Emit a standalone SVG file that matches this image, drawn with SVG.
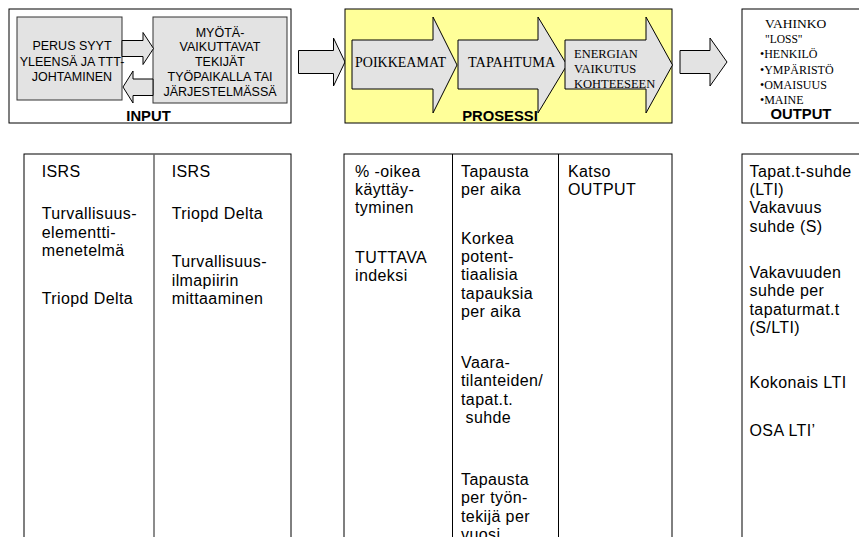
<svg xmlns="http://www.w3.org/2000/svg" width="859" height="537" viewBox="0 0 859 537">
<style>
.frame{fill:#fff;stroke:#000;stroke-width:1}
.yel{fill:#ffff99;stroke:#000;stroke-width:1}
.gbox{fill:#e3e3e3;stroke:#333;stroke-width:1}
.arr{fill:#e3e3e3;stroke:#000;stroke-width:1;stroke-linejoin:miter}
.tbl{fill:none;stroke:#000;stroke-width:1}
.div{stroke:#000;stroke-width:1}
.div2{stroke:#666;stroke-width:1.5}
.sm{font-family:"Liberation Sans",Arial,sans-serif;font-size:12.5px;fill:#000;text-anchor:middle}
.lbl{font-family:"Liberation Sans",Arial,sans-serif;font-size:14.8px;font-weight:bold;fill:#000;text-anchor:middle}
.ser{font-family:"Liberation Serif","Times New Roman",serif;fill:#000}
.t{font-family:"Liberation Sans",Arial,sans-serif;font-size:16px;letter-spacing:0.4px;fill:#000}
</style>

<g id="input">
  <rect class="frame" x="9" y="9" width="282" height="114"/>
  <g id="perus-syyt">
    <rect class="gbox" x="17" y="17" width="105" height="83"/>
    <text class="sm"><tspan x="72" y="50">PERUS SYYT</tspan><tspan x="72" y="65.5">YLEENSÄ JA TTT-</tspan><tspan x="72" y="81">JOHTAMINEN</tspan></text>
  </g>
  <g id="myotavaikuttavat">
    <rect class="gbox" x="153" y="17" width="134" height="86"/>
    <text class="sm"><tspan x="220" y="36.5">MYÖTÄ-</tspan><tspan x="220" y="51.3">VAIKUTTAVAT</tspan><tspan x="220" y="66.1">TEKIJÄT</tspan><tspan x="220" y="80.9">TYÖPAIKALLA TAI</tspan><tspan x="220" y="95.7">JÄRJESTELMÄSSÄ</tspan></text>
  </g>
  <text class="lbl" x="148.5" y="120.5">INPUT</text>
</g>

<g id="connectors">
  <path class="arr" d="M122,40.5 H143 V32.5 L153.5,48.5 L143,64.5 V56.5 H122 Z"/>
  <path class="arr" d="M153,79 H133 V71 L123,87 L133,103 V95.5 H153 Z"/>
  <path class="arr" d="M298.5,50.5 H333.5 V38 L345,62 L333.5,86 V73.5 H298.5 Z"/>
  <path class="arr" d="M680,50.5 H710 V38 L727,62 L710,86 V73.5 H680 Z"/>
</g>

<g id="prosessi">
  <rect class="yel" x="345" y="9" width="327" height="114"/>
  <g id="poikkeamat">
    <path class="arr" d="M352,40 H433 V17 L457,65 L433,113 V89 H352 Z"/>
    <text class="ser" x="355" y="67" font-size="14">POIKKEAMAT</text>
  </g>
  <g id="tapahtuma">
    <path class="arr" d="M458,40 H538 V17 L567,65 L538,113 V89 H458 Z"/>
    <text class="ser" x="468" y="67" font-size="14.3">TAPAHTUMA</text>
  </g>
  <g id="energian">
    <path class="arr" d="M565,40 H646 V17 L672.5,65 L646,113 V89 H565 Z"/>
    <text class="ser" font-size="12.5"><tspan x="574" y="58">ENERGIAN</tspan><tspan x="574" y="73">VAIKUTUS</tspan><tspan x="574" y="87.5">KOHTEESEEN</tspan></text>
  </g>
  <text class="lbl" x="500" y="120.5">PROSESSI</text>
</g>

<g id="output">
  <rect class="frame" x="742" y="9" width="130" height="114"/>
  <text class="ser"><tspan x="765" y="28" font-size="13.5">VAHINKO</tspan><tspan x="765" y="42.5" font-size="11.5">"LOSS"</tspan><tspan x="760" y="58" font-size="12">•HENKILÖ</tspan><tspan x="760" y="73.5" font-size="12">•YMPÄRISTÖ</tspan><tspan x="760" y="89" font-size="12">•OMAISUUS</tspan><tspan x="760" y="104" font-size="12">•MAINE</tspan></text>
  <text class="lbl" x="801" y="119" font-size="16">OUTPUT</text>
</g>

<g id="table-input">
  <rect class="tbl" x="24" y="154" width="267" height="420"/>
  <line class="div2" x1="154" y1="154" x2="154" y2="545"/>
  <text class="t"><tspan x="41.7" y="176.5">ISRS</tspan><tspan x="41.7" y="219.2">Turvallisuus-</tspan><tspan x="41.7" y="237.6">elementti-</tspan><tspan x="41.7" y="256">menetelmä</tspan><tspan x="41.7" y="304">Triopd Delta</tspan></text>
  <text class="t"><tspan x="171.7" y="176.5">ISRS</tspan><tspan x="171.7" y="219.2">Triopd Delta</tspan><tspan x="171.7" y="267.2">Turvallisuus-</tspan><tspan x="171.7" y="285.6">ilmapiirin</tspan><tspan x="171.7" y="304">mittaaminen</tspan></text>
</g>

<g id="table-prosessi">
  <rect class="tbl" x="344" y="154" width="328" height="420"/>
  <line class="div" x1="452.5" y1="154" x2="452.5" y2="545"/>
  <line class="div" x1="558.5" y1="154" x2="558.5" y2="545"/>
  <text class="t"><tspan x="355" y="176.5">% -oikea</tspan><tspan x="355" y="194.9">käyttäy-</tspan><tspan x="355" y="213.3">tyminen</tspan><tspan x="355" y="262.5">TUTTAVA</tspan><tspan x="355" y="280.9">indeksi</tspan></text>
  <text class="t"><tspan x="461" y="176.5">Tapausta</tspan><tspan x="461" y="194.9">per aika</tspan><tspan x="461" y="243.5">Korkea</tspan><tspan x="461" y="261.9">potent-</tspan><tspan x="461" y="280.3">tiaalisia</tspan><tspan x="461" y="298.7">tapauksia</tspan><tspan x="461" y="317.1">per aika</tspan><tspan x="461" y="368">Vaara-</tspan><tspan x="461" y="386.4">tilanteiden/</tspan><tspan x="461" y="404.8">tapat.t.</tspan><tspan x="465.5" y="423.2">suhde</tspan><tspan x="461" y="485">Tapausta</tspan><tspan x="461" y="503.4">per työn-</tspan><tspan x="461" y="521.8">tekijä per</tspan><tspan x="461" y="540.2">vuosi</tspan></text>
  <text class="t"><tspan x="568" y="176.5">Katso</tspan><tspan x="568" y="194.9">OUTPUT</tspan></text>
</g>

<g id="table-output">
  <rect class="tbl" x="742" y="154" width="130" height="420"/>
  <text class="t"><tspan x="749.5" y="176.5">Tapat.t-suhde</tspan><tspan x="749.5" y="194.9">(LTI)</tspan><tspan x="749.5" y="213.3">Vakavuus</tspan><tspan x="749.5" y="231.7">suhde (S)</tspan><tspan x="749.5" y="278">Vakavuuden</tspan><tspan x="749.5" y="296.4">suhde per</tspan><tspan x="749.5" y="314.8">tapaturmat.t</tspan><tspan x="749.5" y="333.2">(S/LTI)</tspan><tspan x="749.5" y="388">Kokonais LTI</tspan><tspan x="749.5" y="436">OSA LTI’</tspan></text>
</g>
</svg>
